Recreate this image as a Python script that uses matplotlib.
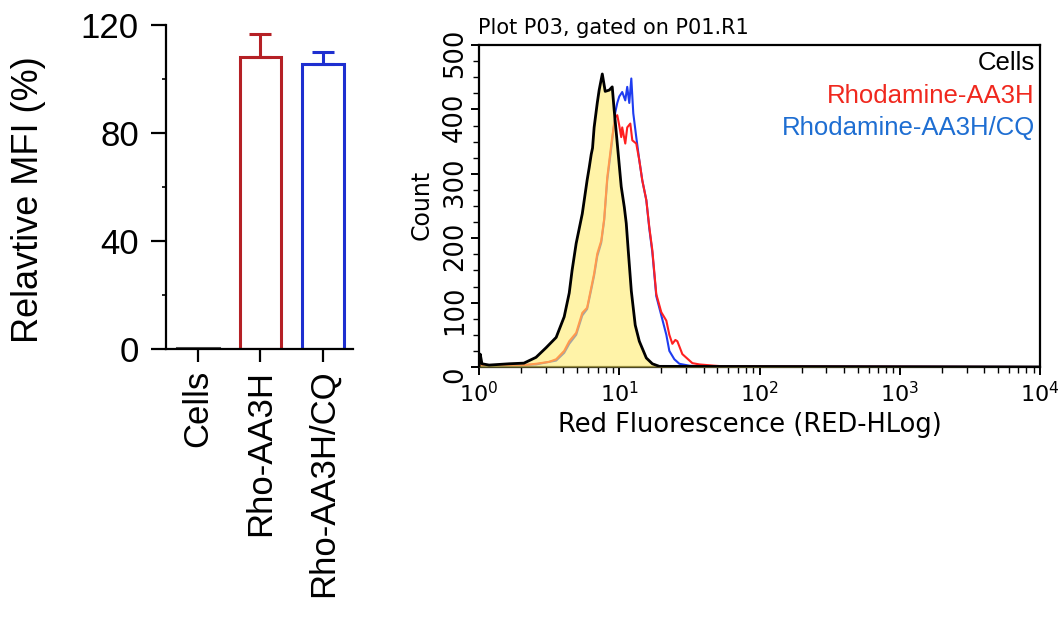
import numpy as np
import matplotlib
matplotlib.use("Agg")
import matplotlib.pyplot as plt
from matplotlib.ticker import MultipleLocator, FixedLocator, LogLocator, NullFormatter
from matplotlib.transforms import ScaledTranslation

# ---------------- data: bar chart ----------------
bar_categories = ["Cells", "Rho-AA3H", "Rho-AA3H/CQ"]
bar_values = [0.5, 108.3, 105.6]
bar_sd = [0.0, 8.2, 4.5]
bar_colors = ["#555555", "#B52025", "#1E2FD0"]

# ---------------- data: flow histograms (fluorescence, count) ----------------
cells_fl = [1.00, 1.02, 1.05, 1.18, 1.64, 2.09, 2.55, 3.01, 3.55, 4.05, 4.40, 4.61,
            4.93, 5.45, 5.90, 6.11, 6.31, 6.45, 6.62, 6.97, 7.19, 7.57, 7.94, 8.49,
            8.91, 9.20, 9.68, 10.33, 10.87, 11.22, 11.59, 12.19, 13.00, 13.90, 15.60,
            17.22, 19.32, 10000.0]
cells_count = [0, 20, 5, 3, 5, 6, 15, 30, 46, 78, 115, 150,
               192, 238, 290, 310, 330, 340, 372, 410, 430, 455, 428, 430,
               435, 399, 347, 280, 248, 223, 181, 118, 65, 40, 14,
               5, 1, 0]

rho_fl = [1.00, 1.93, 2.55, 3.16, 3.55, 4.05, 4.40, 4.93, 5.45, 5.90, 6.31, 6.62,
          6.97, 7.44, 7.81, 8.21, 8.91, 9.36, 9.68, 10.00, 10.33, 10.50, 11.04, 11.40,
          11.99, 12.39, 13.22, 13.90, 14.59, 15.60, 16.38, 17.22, 18.37, 19.95, 21.66,
          22.76, 23.92, 25.12, 25.96, 28.18, 33.21, 37.28, 47.7, 56.2, 10000.0]
rho_count = [2, 2, 5, 8, 12, 25, 40, 53, 84, 92, 123, 145,
             176, 196, 230, 294, 357, 388, 391, 375, 357, 372, 347, 372,
             378, 352, 347, 321, 290, 259, 217, 181, 113, 85, 72,
             50, 36, 42, 40, 20, 6, 4, 2, 1, 0]

rhocq_fl = [1.00, 2.55, 3.55, 4.05, 4.40, 4.93, 5.45, 5.90, 6.31, 6.62, 6.97, 7.44,
            7.81, 8.21, 8.91, 9.36, 9.68, 10.00, 10.50, 11.04, 11.40, 11.79, 12.19,
            12.59, 13.22, 13.90, 14.59, 15.60, 16.38, 17.22, 18.37, 19.95, 21.66,
            22.76, 24.71, 26.83, 31.62, 37.28, 10000.0]
rhocq_count = [1, 4, 10, 22, 36, 50, 80, 90, 120, 142, 172, 193,
               228, 290, 352, 395, 410, 420, 427, 414, 435, 410, 448,
               394, 357, 321, 290, 259, 215, 178, 110, 80, 50,
               25, 12, 5, 2, 1, 0]

legend_labels = ["Cells", "Rhodamine-AA3H", "Rhodamine-AA3H/CQ"]
legend_colors = ["#000000", "#F0281E", "#1E6ED2"]

count_ticks = [0, 100, 200, 300, 400, 500]

# ---------------- figure ----------------
W, H = 1061, 629
fig = plt.figure(figsize=(W / 100, H / 100), dpi=100)

def rect(l, t, r, b):
    return [l / W, 1 - b / H, (r - l) / W, (b - t) / H]

# ----- left: bar chart -----
ax1 = fig.add_axes(rect(166, 25, 353, 349))
pos = np.arange(len(bar_categories))
ax1.bar(pos, bar_values, width=0.66, facecolor="white", edgecolor=bar_colors,
        linewidth=2.2, zorder=2)
for p, v, e, c in zip(pos, bar_values, bar_sd, bar_colors):
    if e > 0:
        ax1.errorbar([p], [v], yerr=[[0], [e]], fmt="none", ecolor=c,
                     elinewidth=2.2, capsize=8, capthick=2.2, zorder=3)
ax1.set_xlim(-0.51, 2.48)
ax1.set_ylim(0, 120)
for s in ["top", "right"]:
    ax1.spines[s].set_visible(False)
ax1.spines["left"].set_bounds(0, 120)
ax1.spines["left"].set_linewidth(1.6)
ax1.spines["bottom"].set_linewidth(1.6)
ax1.set_yticks([0, 40, 80, 120])
ax1.yaxis.set_minor_locator(FixedLocator([20, 60, 100]))
ax1.tick_params(axis="y", which="major", length=10.5, width=1.6, direction="out",
                labelsize=25, pad=9)
ax1.tick_params(axis="y", which="minor", length=3, width=1.2, direction="out")
ax1.set_xticks(pos)
ax1.set_xticklabels(bar_categories, rotation=90, fontsize=25)
ax1.tick_params(axis="x", which="major", length=9, width=1.6, direction="out", pad=6)
for lab in ax1.get_xticklabels() + ax1.get_yticklabels():
    lab.set_fontfamily("Liberation Sans")
fig.text(29 / W, 1 - 200 / H, "Relavtive MFI (%)", rotation=90, ha="center",
         va="center", fontsize=26, family="Liberation Sans")

# ----- right: histogram -----
ax2 = fig.add_axes(rect(479, 45, 1040, 367))
ax2.set_xscale("log")
ax2.plot(rhocq_fl, rhocq_count, color="#1E3CF0", lw=1.5, zorder=2)
ax2.plot(rho_fl, rho_count, color="#FF2020", lw=1.5, zorder=2)
ax2.fill_between(cells_fl, cells_count, 0, color="#FFEC6E", alpha=0.6, lw=0, zorder=3)
ax2.plot(cells_fl, cells_count, color="black", lw=2.0, zorder=4)
ax2.set_xlim(1, 1e4)
ax2.set_ylim(0, 500)
for s in ax2.spines.values():
    s.set_linewidth(1.6)
ax2.set_yticks(count_ticks)
ax2.set_yticklabels([str(t) for t in count_ticks], rotation=90, va="center",
                    fontsize=18.5, family="DejaVu Sans")
ax2.yaxis.set_minor_locator(MultipleLocator(25))
ax2.xaxis.set_major_locator(LogLocator(base=10, numticks=10))
ax2.xaxis.set_minor_locator(LogLocator(base=10, subs=np.arange(2, 10), numticks=20))
ax2.xaxis.set_minor_formatter(NullFormatter())
ax2.tick_params(axis="both", which="major", length=6, width=1.4, direction="out")
ax2.tick_params(axis="both", which="minor", length=4, width=1.0, direction="out")
ax2.tick_params(axis="y", pad=2)
ax2.tick_params(axis="x", labelsize=16, pad=4)
off = ScaledTranslation(0, -8 / 100, fig.dpi_scale_trans)
for lab in ax2.get_yticklabels():
    lab.set_transform(lab.get_transform() + off)

for i, (t, c) in enumerate(zip(legend_labels, legend_colors)):
    ax2.text(0.991, [0.944, 0.842, 0.742][i], t, color=c, ha="right", va="center",
             fontsize=18.5, family="Liberation Sans", transform=ax2.transAxes)

fig.text(478 / W, 1 - 28 / H, "Plot P03, gated on P01.R1", ha="left", va="center",
         fontsize=15, family="DejaVu Sans")
fig.text(750 / W, 1 - 425 / H, "Red Fluorescence (RED-HLog)", ha="center",
         va="center", fontsize=18.5, family="DejaVu Sans")
fig.text(422 / W, 1 - 205 / H, "Count", rotation=90, ha="center", va="center",
         fontsize=17, family="DejaVu Sans")

fig.savefig("out.png", dpi=100)
